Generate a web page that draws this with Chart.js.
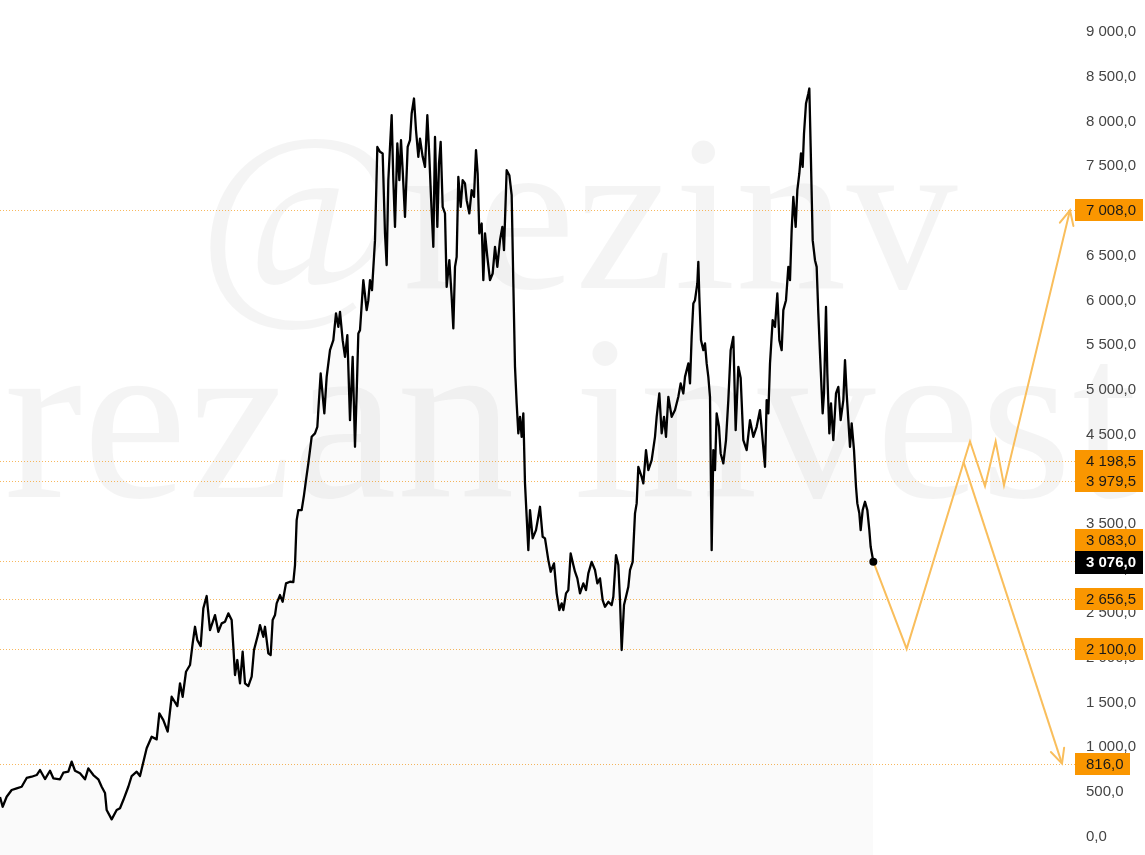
<!DOCTYPE html>
<html><head><meta charset="utf-8">
<script src="https://cdn.jsdelivr.net/npm/chart.js@4/dist/chart.umd.min.js"></script>
<style>html,body{margin:0;padding:0;background:#fff;overflow:hidden}#wrap{width:1145px;height:855px}</style>
</head><body><div id="wrap"><canvas id="c" width="1145" height="855"></canvas></div>
<script>
// trading-day index of each sample
const days = [
0,8,20,35,50,65,80,95,110,120,
135,150,160,180,190,205,215,225,240,255,
265,280,295,305,315,320,335,350,360,370,
385,395,410,420,440,455,470,478,490,503,
515,532,540,548,558,570,578,585,592,602,
610,620,630,645,655,665,675,685,695,700,
705,712,720,728,735,745,755,762,775,780,
790,795,805,812,818,825,830,840,848,858,
870,880,885,890,895,905,912,918,925,935,
945,952,955,962,973,980,990,1000,1008,1015,
1020,1028,1035,1042,1050,1058,1065,1070,1075,1080,
1086,1090,1100,1105,1110,1116,1125,1132,1140,1148,
1155,1160,1165,1170,1175,1180,1185,1192,1198,1203,
1208,1215,1223,1230,1235,1242,1248,1255,1260,1268,
1275,1282,1288,1293,1300,1305,1312,1317,1322,1328,
1335,1340,1348,1355,1360,1365,1370,1375,1382,1388,
1395,1400,1408,1415,1422,1428,1433,1438,1445,1450,
1455,1462,1470,1478,1485,1492,1500,1507,1512,1520,
1528,1535,1540,1545,1550,1555,1560,1565,1570,1575,
1580,1585,1590,1598,1608,1615,1620,1628,1635,1645,
1652,1662,1670,1678,1685,1690,1698,1705,1712,1720,
1725,1732,1740,1750,1758,1765,1775,1785,1792,1800,
1808,1815,1825,1835,1840,1848,1855,1860,1865,1872,
1878,1885,1890,1898,1905,1910,1915,1925,1930,1938,
1945,1955,1965,1970,1978,1985,1992,1998,2005,2015,
2025,2035,2042,2050,2055,2065,2070,2075,2080,2085,
2092,2095,2098,2103,2110,2115,2120,2125,2130,2135,
2140,2145,2150,2157,2162,2170,2178,2185,2192,2200,
2207,2215,2222,2230,2240,2250,2260,2270,2280,2288,
2295,2300,2305,2310,2318,2325,2332,2338,2345,2350,
2358,2365,2370,2375,2380,2387,2392,2398,2403,2408,
2412,2418,2425,2428,2432,2438,2445,2450,2455,2460,
2468,2472,2478,2482,2488,2493,2500,2508,2515,2522,
2530,2535,2540,2545,2550,2555,2562,2568,2572,2578,
2582,2588,2595,2602,2608,2612,2620
];
const prices = [
442,333,445,520,539,557,655,669,688,744,
643,736,651,640,714,725,837,736,707,640,
763,688,640,557,487,296,192,296,316,408,
557,677,725,677,987,1117,1087,1378,1303,1173,
1564,1460,1714,1564,1844,1919,2162,2347,2198,2131,
2553,2691,2310,2478,2291,2385,2403,2497,2422,2124,
1807,1975,1714,2068,1714,1684,1788,2087,2273,2366,
2235,2347,2050,2031,2422,2478,2609,2702,2627,2833,
2851,2847,3038,3541,3653,3653,3821,3989,4175,4473,
4511,4585,4772,5182,4735,5144,5443,5555,5854,5704,
5872,5555,5368,5611,4660,5368,4361,4959,5630,5667,
6002,6226,5891,6002,6226,6114,6674,7717,7662,7644,
6749,6394,7345,7717,8072,7345,6822,7756,7345,7792,
7457,6934,7717,7792,8091,8259,7904,7606,7811,7606,
7494,8072,7606,7158,6599,7829,6822,7532,7774,7046,
6973,6151,6450,6039,5686,6375,6487,7382,7046,7345,
7308,7121,6973,7233,7158,7681,7420,6749,6860,6226,
6749,6487,6226,6301,6599,6375,6674,6822,6562,7457,
7401,7177,6189,5256,4847,4511,4697,4473,4735,3952,
3578,3205,3653,3336,3429,3578,3690,3354,3336,3093,
2963,3057,2721,2534,2609,2534,2721,2758,3168,3038,
2963,2889,2721,2833,2758,2945,3074,2982,2833,2889,
2646,2571,2627,2590,2683,3149,3038,2646,2087,2590,
2683,2795,2982,3074,3616,3728,4137,4025,3952,4324,
4100,4212,4473,4697,4958,4511,4697,4473,4921,4697,
4772,4921,5070,4958,5144,5294,5070,5592,5965,6002,
6189,6431,6039,5555,5443,5518,5294,5144,4921,3205,
4324,4100,4735,4585,4287,4175,4436,4884,5443,5592,
4548,5256,5130,4436,4324,4660,4473,4585,4772,4436,
4137,4884,4735,5294,5779,5704,6077,5555,5443,5891,
6002,6375,6226,6786,7158,6822,7233,7420,7644,7494,
7867,8203,8315,8371,7717,6674,6450,6375,5854,5406,
4735,4958,5927,5182,4511,4847,4436,4958,5032,4660,
4884,5331,4958,4660,4361,4623,4324,3914,3728,3616,
3429,3653,3746,3653,3429,3242,3076
];
const lastPrice = 3076;
const levels = [7008, 4198.5, 3979.5, 3083, 2656.5, 2100, 816];
const scenarioUpDays   = [2620, 2720, 2910, 2955, 2987, 3012, 3210];
const scenarioUpValues = [3076, 2100, 4420, 3920, 4420, 3930, 7008];
const scenarioDownDays   = [2890, 3186];
const scenarioDownValues = [4198.5, 816];
const yTickValues = [0,500,1000,1500,2000,2500,3000,3500,4000,4500,5000,5500,6000,6500,7000,7500,8000,8500,9000];
const watermarks = ['@rezinv', 'rezan invest'];

function fmt(v){
  const s = Math.abs(v).toFixed(1).split('.');
  const int = s[0].replace(/\B(?=(\d{3})+(?!\d))/g, ' ');
  return (v<0?'-':'') + int + ',' + s[1];
}
const pts = (xs, ys) => xs.map((x,i)=>({x, y: ys[i]}));
const ORANGE_LINE = '#F9BE5C';
const ORANGE_BOX = '#FA9600';
const FONT_FAMILY = '"Liberation Sans", Arial, sans-serif';
const LABEL_FONT = '15px ' + FONT_FAMILY;

const watermarkPlugin = {
  id:'watermark',
  beforeDraw(chart){
    const ctx = chart.ctx;
    ctx.save();
    ctx.fillStyle = 'rgba(0,0,0,0.045)';
    ctx.textBaseline = 'alphabetic';
    ctx.font = '222px "Liberation Serif", "DejaVu Serif", serif';
    ctx.textAlign = 'center';
    ctx.fillText(watermarks[0], 578, 288);
    ctx.font = '236px "Liberation Serif", "DejaVu Serif", serif';
    ctx.textAlign = 'left';
    ctx.fillText(watermarks[1], 4, 497);
    ctx.restore();
  }
};

const levelLinesPlugin = {
  id:'levelLines',
  beforeDatasetsDraw(chart){
    const {ctx, chartArea, scales:{y}} = chart;
    ctx.save();
    ctx.strokeStyle = 'rgba(245,160,40,0.75)';
    ctx.lineWidth = 1;
    ctx.setLineDash([1,2]);
    levels.forEach(v=>{
      const py = Math.round(y.getPixelForValue(v)) + 0.5;
      ctx.beginPath(); ctx.moveTo(chartArea.left, py); ctx.lineTo(chartArea.right, py); ctx.stroke();
    });
    ctx.restore();
  }
};

const arrowPlugin = {
  id:'arrows',
  afterDatasetsDraw(chart){
    const ctx = chart.ctx;
    chart.data.datasets.forEach((ds, i)=>{
      if(!ds.arrow) return;
      const meta = chart.getDatasetMeta(i);
      const n = meta.data.length;
      const a = meta.data[n-2], b = meta.data[n-1];
      const ang = Math.atan2(b.y - a.y, b.x - a.x);
      const L = 16, spread = 0.45;
      ctx.save();
      ctx.strokeStyle = ds.borderColor; ctx.lineWidth = ds.borderWidth;
      ctx.lineCap = 'round';
      ctx.beginPath();
      ctx.moveTo(b.x - L*Math.cos(ang - spread), b.y - L*Math.sin(ang - spread));
      ctx.lineTo(b.x, b.y);
      ctx.lineTo(b.x - L*Math.cos(ang + spread), b.y - L*Math.sin(ang + spread));
      ctx.stroke();
      ctx.restore();
    });
  }
};

const priceLabelsPlugin = {
  id:'priceLabels',
  afterDraw(chart){
    const {ctx, chartArea, scales:{y}} = chart;
    const h = 22, x0 = chartArea.right, padL = 11, padR = 6;
    ctx.save();
    ctx.textBaseline = 'middle';
    ctx.textAlign = 'left';
    const curY = y.getPixelForValue(lastPrice);
    const labels = levels.map(v=>({v, py: y.getPixelForValue(v)}));
    labels.forEach(l=>{ if (Math.abs(l.py - curY) < h) l.py = curY - h; });
    ctx.font = LABEL_FONT;
    labels.forEach(l=>{
      const w = ctx.measureText(fmt(l.v)).width;
      ctx.fillStyle = ORANGE_BOX;
      ctx.fillRect(x0, Math.round(l.py - h/2), Math.ceil(w + padL + padR), h);
    });
    labels.forEach(l=>{
      ctx.fillStyle = '#1a1a1a';
      ctx.fillText(fmt(l.v), x0 + padL, l.py + 1);
    });
    ctx.font = 'bold ' + LABEL_FONT;
    const t = fmt(lastPrice);
    const w = ctx.measureText(t).width;
    ctx.fillStyle = '#000';
    ctx.fillRect(x0, Math.round(curY - h/2), Math.ceil(w + padL + padR), h+1);
    ctx.fillStyle = '#fff';
    ctx.fillText(t, x0 + padL, curY + 1);
    ctx.restore();
  }
};

const chart = new Chart(document.getElementById('c'), {
  type:'line',
  data:{
    datasets:[
      {
        data: pts(days, prices),
        borderColor:'#000', borderWidth:2.3, tension:0,
        fill:'start', backgroundColor:'rgba(0,0,0,0.02)',
        pointRadius: ctx => ctx.dataIndex === days.length-1 ? 4 : 0,
        pointBackgroundColor:'#000', pointBorderWidth:0,
        borderJoinStyle:'round', order:1
      },
      {
        data: pts(scenarioUpDays, scenarioUpValues),
        borderColor: ORANGE_LINE, borderWidth:2, pointRadius:0, fill:false, tension:0, arrow:true, order:2
      },
      {
        data: pts(scenarioDownDays, scenarioDownValues),
        borderColor: ORANGE_LINE, borderWidth:2, pointRadius:0, fill:false, tension:0, arrow:true, order:2
      }
    ]
  },
  options:{
    responsive:false, animation:false, devicePixelRatio:1,
    layout:{padding:0, autoPadding:false},
    plugins:{legend:{display:false}, tooltip:{enabled:false}},
    scales:{
      x:{type:'linear', display:false, min:0, max:3225},
      y:{
        position:'right', min:-207, max:9359,
        grid:{display:false, drawTicks:false}, border:{display:false},
        afterBuildTicks: s => { s.ticks = yTickValues.map(v=>({value:v})); },
        afterFit: s => { s.width = 70; s.paddingTop = 0; s.paddingBottom = 0; },
        ticks:{padding:11, color:'#444', font:{family:FONT_FAMILY, size:15},
               callback: v => fmt(v)}
      }
    }
  },
  plugins:[watermarkPlugin, levelLinesPlugin, arrowPlugin, priceLabelsPlugin]
});

// fit the value range to the plotting area: 0 sits at y=836.5, 9000 at y=32.3; day 0 at x=0, 3 days per pixel
(function fitScales(){
  const ca = chart.chartArea;
  const k = (836.5 - 32.3) / 9000;
  chart.options.scales.y.min = -(ca.bottom - 836.5) / k;
  chart.options.scales.y.max = (836.5 - ca.top) / k;
  chart.options.scales.x.min = 3 * (ca.left - 0);
  chart.options.scales.x.max = 3 * ca.right;
  chart.update();
})();
</script>
</body></html>
